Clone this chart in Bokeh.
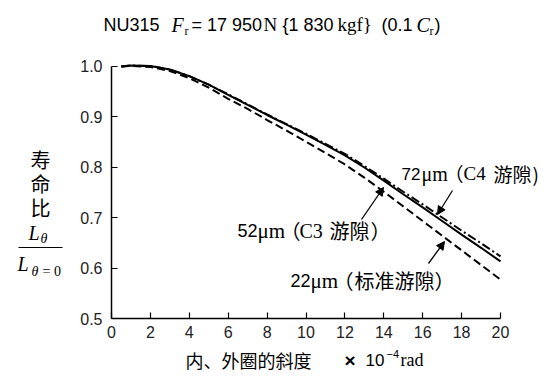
from bokeh.plotting import figure
from bokeh.models import Label, Arrow, NormalHead, FixedTicker, CustomJSTickFormatter
from bokeh.embed import file_html
from bokeh.resources import INLINE

# ---- data ----
slope = [0.5, 1, 2, 3, 4, 5, 6, 7, 8, 9, 10, 11, 12, 13, 14, 15, 16, 17, 18, 19, 20]
life_c4 = [0.999, 1.001, 1.000, 0.993, 0.980, 0.963, 0.944, 0.924, 0.904, 0.885, 0.866,
           0.846, 0.826, 0.802, 0.777, 0.751, 0.726, 0.700, 0.674, 0.649, 0.623]
life_c3 = [0.999, 1.001, 1.000, 0.993, 0.980, 0.963, 0.943, 0.923, 0.903, 0.884, 0.864,
           0.844, 0.823, 0.799, 0.773, 0.746, 0.720, 0.693, 0.666, 0.640, 0.613]
life_std = [0.999, 1.000, 0.998, 0.990, 0.976, 0.957, 0.935, 0.915, 0.893, 0.872, 0.850,
            0.828, 0.805, 0.779, 0.751, 0.722, 0.693, 0.664, 0.635, 0.606, 0.577]
x_ticks = [0, 2, 4, 6, 8, 10, 12, 14, 16, 18, 20]
y_ticks = [0.5, 0.6, 0.7, 0.8, 0.9, 1.0]

SANS = "Liberation Sans"
SERIF = "Liberation Serif"
CJK = "Noto Sans CJK SC"

W, H = 544, 374


# picture-pixel -> data helpers (x 0..20 at px 111..500, y 0.5..1.0 at py 318..65.5)
def X(px):
    return (px - 111) / 19.45


def Y(py):
    return 1.0 - (py - 65.5) / 505.0


p = figure(width=W, height=H, output_backend="svg", toolbar_location=None,
           x_range=(X(0), X(W)), y_range=(Y(H), Y(0)),
           min_border=0, min_border_left=0, min_border_right=0,
           min_border_top=0, min_border_bottom=0)
p.outline_line_color = None
p.grid.visible = False
p.background_fill_color = "white"
p.border_fill_color = "white"

p.xaxis.fixed_location = 0.5
p.yaxis.fixed_location = 0
for ax in (p.xaxis, p.yaxis):
    ax.major_tick_in = 6
    ax.major_tick_out = 0
    ax.minor_tick_line_color = None
    ax.axis_line_width = 1.5
    ax.major_tick_line_width = 1.2
    ax.axis_line_color = "black"
    ax.major_tick_line_color = "black"
    ax.major_label_text_font = SANS
    ax.major_label_text_font_size = "16px"
    ax.major_label_text_color = "#222222"
p.xaxis.ticker = FixedTicker(ticks=x_ticks)
p.yaxis.ticker = FixedTicker(ticks=y_ticks)
p.xaxis.bounds = (0, 20)
p.yaxis.bounds = (0.5, 1.0)
p.xaxis.major_label_standoff = 7
p.yaxis.major_label_standoff = 9
p.yaxis.formatter = CustomJSTickFormatter(code="return tick.toFixed(1);")

p.line(slope, life_c4, line_color="black", line_width=2, line_dash="9 3 2 3")
p.line(slope, life_c3, line_color="black", line_width=2)
p.line(slope, life_std, line_color="black", line_width=2, line_dash="8 4")


def lab(px, py, text, font, size, style="normal", align="left", color="black"):
    p.add_layout(Label(x=X(px), y=Y(py), text=text, text_font=font,
                       text_font_size=f"{size}px", text_font_style=style,
                       text_align=align, text_baseline="middle", text_color=color))


# ---- title ----
lab(103, 24, "NU315", SANS, 18)
lab(171, 24, "F", SERIF, 20, "italic")
lab(184, 30, "r", SERIF, 12)
lab(191, 24, "= 17 950", SANS, 18)
lab(263, 24, "N", SERIF, 19)
lab(282, 24, "{1 830", SANS, 18)
lab(337, 24, "kgf}", SERIF, 19)
lab(381, 24, "(0.1", SANS, 18)
lab(416, 24, "C", SERIF, 20, "italic")
lab(429, 30, "r", SERIF, 12)
lab(434, 24, ")", SANS, 18)

# ---- y axis label ----
lab(40, 159, "寿", CJK, 20, align="center")
lab(40, 183, "命", CJK, 20, align="center")
lab(40, 207, "比", CJK, 20, align="center")
lab(28, 232, "L", SERIF, 20, "italic")
lab(40, 238, "θ", SERIF, 14, "italic")
p.add_layout(Arrow(x_start=X(18), y_start=Y(247), x_end=X(62), y_end=Y(247),
                   start=None, end=None, line_width=1.2, line_color="black"))
lab(17, 263, "L", SERIF, 20, "italic")
lab(31, 271, "θ", SERIF, 14, "italic")
lab(42, 271, "= 0", SERIF, 14)

# ---- x axis label ----
lab(185, 359, "内、外圈的斜度", CJK, 18)
lab(344, 360, "×", SANS, 19, "bold")
lab(365, 359, "10", SANS, 17)
lab(386, 353, "−4", SANS, 11)
lab(400, 359, "rad", SERIF, 18)


# ---- curve annotations ----
def clearance(px, py, num, code, cjk, size=20, close="）"):
    lab(px, py, num, SANS, size - 2)
    lab(px + 20, py, "μm", SERIF, size + 1)
    lab(px + 43, py, "（", CJK, size)
    if code:
        lab(px + 62, py, code, SERIF, size)
        lab(px + 92, py, cjk, CJK, size)
        cjk_w = len(cjk) * size
        lab(px + 92 + cjk_w + 1, py, close, CJK, size)
    else:
        lab(px + 64, py, cjk, CJK, size)
        lab(px + 64 + len(cjk) * size, py, close, CJK, size)


clearance(401, 173, "72", "C4", "游隙", 19, close=")")
clearance(237, 230, "52", "C3", "游隙")
clearance(290, 280, "22", None, "标准游隙")

arrows = [((452, 190), (437, 214)), ((361, 219), (383, 187)), ((428, 263), (444, 241))]
for (sx, sy), (ex, ey) in arrows:
    p.add_layout(Arrow(x_start=X(sx), y_start=Y(sy), x_end=X(ex), y_end=Y(ey),
                       line_width=1.3, line_color="black",
                       end=NormalHead(size=8, fill_color="black", line_color="black")))

open("out.html", "w").write(file_html(p, INLINE))
